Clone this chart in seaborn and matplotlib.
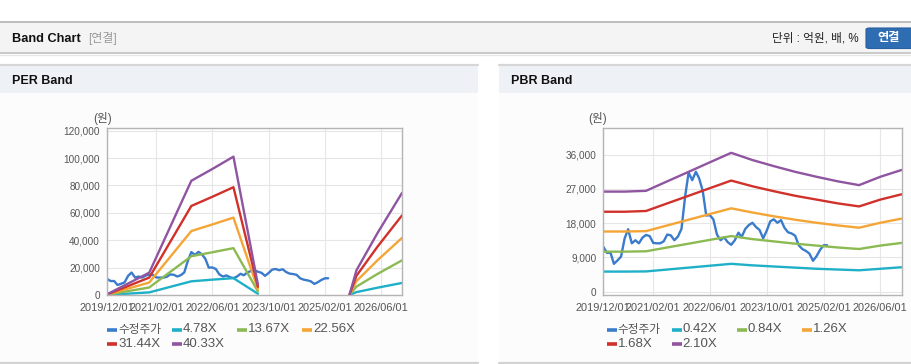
"""Band Chart: PER band and PBR band panels."""

import matplotlib.dates as mdates
import matplotlib.pyplot as plt
import pandas as pd
import seaborn as sns
from matplotlib.lines import Line2D
from matplotlib.patches import FancyBboxPatch, Rectangle
from matplotlib.ticker import FuncFormatter

plt.switch_backend("Agg")

# adjusted close price, monthly from 2019/12
PRICE = [
    11800, 10200, 10200, 7300, 8200, 9200, 14000, 16400, 12700, 13500,
    12700, 14200, 14900, 14600, 12800, 12700, 12700, 13200, 15000, 14800,
    13500, 14500, 16500, 25000, 31300, 29300, 31500, 29800, 26500, 20000,
    20100, 19000, 15000, 13500, 14300, 13000, 12300, 13500, 15500, 14400,
    16500, 17500, 18100, 17000, 16200, 14000, 16000, 18500, 19000, 18100,
    18800, 16800, 15600, 15300, 14700, 12200, 11200, 10700, 10000, 8100,
    9300, 11000, 12200, 12200,
]
PRICE_LABEL = "수정주가"

# PER band (two segments, gap in between)
PER_DATES_1 = ["2019-12-01", "2020-12-01", "2021-12-01", "2022-06-01", "2022-12-01", "2023-07-01"]
PER_DATES_2 = ["2025-09-01", "2025-11-01", "2026-05-01", "2026-12-01"]
PER_LABELS = ["4.78X", "13.67X", "22.56X", "31.44X", "40.33X"]
PER_BAND_1 = [
    [60, 1900, 10000, 11200, 12300, 900],
    [170, 5500, 28300, 31200, 34200, 2600],
    [280, 9100, 46700, 51500, 56500, 4300],
    [390, 12700, 65000, 71700, 78700, 6000],
    [500, 16300, 83400, 92000, 101000, 7700],
]
PER_BAND_2 = [
    [0, 2100, 5300, 8800],
    [0, 6100, 15300, 25300],
    [0, 10100, 25200, 41700],
    [0, 14000, 35100, 58100],
    [0, 18000, 45000, 74500],
]

# PBR band
PBR_DATES = [
    "2019-12-01", "2020-06-01", "2020-12-01", "2021-06-01", "2021-12-01",
    "2022-06-01", "2022-12-01", "2023-06-01", "2023-12-01", "2024-06-01",
    "2024-12-01", "2025-06-01", "2025-12-01", "2026-06-01", "2026-12-01",
]
PBR_LABELS = ["0.42X", "0.84X", "1.26X", "1.68X", "2.10X"]
PBR_BAND = [
    [5260, 5260, 5300, 5800, 6300, 6800, 7300, 6900, 6600, 6300, 6000, 5800, 5600, 6000, 6400],
    [10500, 10500, 10600, 11600, 12600, 13600, 14600, 13800, 13200, 12600, 12100, 11600, 11200, 12100, 12800],
    [15800, 15800, 15900, 17400, 18900, 20400, 21900, 20800, 19800, 18900, 18100, 17400, 16800, 18100, 19200],
    [21000, 21000, 21200, 23200, 25200, 27200, 29200, 27700, 26400, 25200, 24200, 23200, 22400, 24200, 25600],
    [26300, 26300, 26500, 29000, 31500, 34000, 36500, 34600, 33000, 31500, 30200, 29000, 28000, 30200, 32000],
]

X_TICKS = ["2019-12-01", "2021-02-01", "2022-06-01", "2023-10-01", "2025-02-01", "2026-06-01"]
X_RANGE = ["2019-12-01", "2026-12-01"]

PRICE_COLOR = "#3a7bcc"
BAND_COLORS = ["#1fb0c8", "#8cba52", "#f4a535", "#d0312b", "#8f55a1"]

W, H = 912, 364


def fx(x):
    return x / W


def fy(y):
    return 1 - y / H


def rect(fig, x0, y0, x1, y1, color):
    fig.add_artist(
        Rectangle((fx(x0), fy(y1)), fx(x1 - x0), (y1 - y0) / H,
                  transform=fig.transFigure, facecolor=color, edgecolor="none", zorder=0)
    )


def hline(fig, x0, x1, y, color, lw):
    fig.add_artist(
        Line2D([fx(x0), fx(x1)], [fy(y), fy(y)], transform=fig.transFigure,
               color=color, lw=lw, zorder=1)
    )


def style_axes(ax, ylim, yticks):
    ax.set_facecolor("white")
    ax.set_xlim(pd.to_datetime(X_RANGE[0]), pd.to_datetime(X_RANGE[1]))
    ax.set_ylim(*ylim)
    ax.set_xticks(pd.to_datetime(X_TICKS))
    ax.xaxis.set_major_formatter(mdates.DateFormatter("%Y/%m/%d"))
    ax.set_yticks(yticks)
    ax.yaxis.set_major_formatter(FuncFormatter(lambda v, _: f"{int(v):,}"))
    ax.grid(True, color="#e6e6e6", lw=0.8)
    ax.set_axisbelow(True)
    for sp in ax.spines.values():
        sp.set_color("#b4b4b4")
        sp.set_linewidth(1.0)
    ax.tick_params(labelcolor="#555555", color="#9a9a9a", length=3)
    ax.tick_params(axis="x", labelsize=7.9, pad=3)
    ax.tick_params(axis="y", labelsize=7.2, pad=2)
    ax.set_xlabel("")
    ax.set_ylabel("")


def legend(fig, x_base, labels, colors):
    rows = [329.5, 344.0]
    for i, (lab, col) in enumerate(zip(labels, colors)):
        x0 = x_base + (i % 4) * 65
        y = rows[i // 4]
        fig.add_artist(
            Line2D([fx(x0), fx(x0 + 10)], [fy(y), fy(y)], transform=fig.transFigure,
                   color=col, lw=2.6, solid_capstyle="butt")
        )
        fig.text(fx(x0 + 11), fy(y), lab, va="center", ha="left",
                 fontsize=8.4 if lab == PRICE_LABEL else 9.5, color="#555555")


def main() -> None:
    sns.set_style("white")
    plt.rcParams["font.family"] = ["Liberation Sans", "Noto Sans CJK KR", "DejaVu Sans"]

    fig = plt.figure(figsize=(W / 100, H / 100), dpi=100)
    fig.patch.set_facecolor("white")

    # page header
    rect(fig, 0, 22, W, 52.5, "#f4f4f4")
    hline(fig, 0, W, 22, "#bdbdbd", 1.4)
    hline(fig, 0, W, 53, "#c9c9c9", 1.4)
    hline(fig, 0, W, 54.5, "#e6e6e6", 1.0)
    fig.text(fx(12), fy(38.5), "Band Chart", fontsize=9.2, fontweight="bold",
             color="#111111", va="center", ha="left")
    fig.text(fx(88), fy(38.5), "[연결]", fontsize=8.6, color="#9a9a9a", va="center", ha="left")
    fig.text(fx(859), fy(38.5), "단위 : 억원, 배, %", fontsize=8.4, color="#222222",
             va="center", ha="right")
    fig.add_artist(
        FancyBboxPatch((fx(866), fy(48.5)), fx(48), 20.5 / H, boxstyle="round,pad=0,rounding_size=0.004",
                       transform=fig.transFigure, facecolor="#2f6db3", edgecolor="#285f9e", lw=0.8)
    )
    fig.text(fx(889), fy(38.5), "연결", fontsize=8.8, fontweight="bold", color="white",
             va="center", ha="center")

    # panels
    for x0, x1, title in [(0, 478, "PER Band"), (499, W, "PBR Band")]:
        rect(fig, x0, 65, x1, 93, "#eef2f7")
        rect(fig, x0, 93, x1, 362, "#fcfcfd")
        hline(fig, x0, x1, 64.5, "#d6d6d6", 1.6)
        hline(fig, x0, x1, 362.5, "#d3d3d3", 1.6)
        fig.text(fx(x0 + 12), fy(80.5), title, fontsize=9, fontweight="bold",
                 color="#111111", va="center", ha="left")

    # PER chart
    ax1 = fig.add_axes([fx(107), fy(295), fx(295), 166.7 / H])
    price_dates = pd.date_range(X_RANGE[0], periods=len(PRICE), freq="MS")
    sns.lineplot(x=price_dates, y=PRICE, color=PRICE_COLOR, lw=1.7, ax=ax1)
    for vals1, vals2, col in zip(PER_BAND_1, PER_BAND_2, BAND_COLORS):
        sns.lineplot(x=pd.to_datetime(PER_DATES_1), y=vals1, color=col, lw=1.7, ax=ax1)
        sns.lineplot(x=pd.to_datetime(PER_DATES_2), y=vals2, color=col, lw=1.7, ax=ax1)
    style_axes(ax1, (0, 121700), range(0, 120001, 20000))
    fig.text(fx(102.5), fy(118.5), "(원)", fontsize=8.4, color="#555555", va="center", ha="center")
    legend(fig, 107, [PRICE_LABEL] + PER_LABELS, [PRICE_COLOR] + BAND_COLORS)

    # PBR chart
    ax2 = fig.add_axes([fx(603.3), fy(295), fx(298.4), 166.7 / H])
    sns.lineplot(x=price_dates, y=PRICE, color=PRICE_COLOR, lw=1.7, ax=ax2)
    for vals, col in zip(PBR_BAND, BAND_COLORS):
        sns.lineplot(x=pd.to_datetime(PBR_DATES), y=vals, color=col, lw=1.7, ax=ax2)
    style_axes(ax2, (-900, 42950), range(0, 36001, 9000))
    fig.text(fx(598), fy(118.5), "(원)", fontsize=8.4, color="#555555", va="center", ha="center")
    legend(fig, 606.7, [PRICE_LABEL] + PBR_LABELS, [PRICE_COLOR] + BAND_COLORS)

    fig.savefig("out.png", dpi=100)
    plt.close(fig)


if __name__ == "__main__":
    main()
